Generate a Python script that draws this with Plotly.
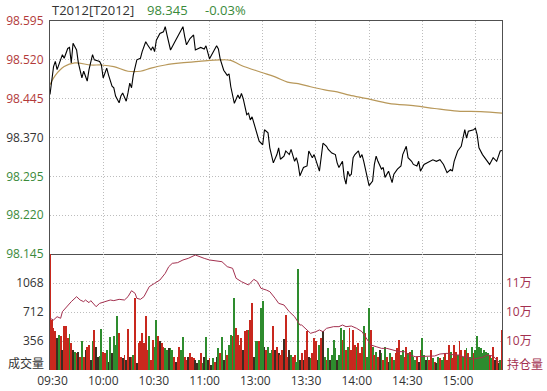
import plotly.graph_objects as go

# ---------------- data ----------------
contract = "T2012[T2012]"
prev_settle = 98.370

# minutes since the 09:30 open (lunch break removed: 120 = 11:30/13:00, 255 = 15:15)
price_t = [0, 1, 2, 3, 4, 7, 8, 10, 11, 12,
           13, 15, 16, 18, 19, 21, 22, 24, 25, 28,
           29, 30, 32, 33, 35, 36, 37, 39, 40, 41,
           43, 44, 45, 46, 47, 49, 51, 52, 54, 55,
           57, 58, 59, 60, 62, 64, 65, 66, 68, 70,
           72, 75, 76, 77, 79, 81, 82, 84, 85, 87,
           88, 90, 92, 94, 95, 96, 98, 100, 101, 102,
           104, 106, 107, 108, 109, 111, 112, 113, 114, 116,
           118, 120, 121, 123, 124, 126, 128, 129, 130, 132,
           133, 135, 136, 138, 139, 140, 141, 143, 145, 146,
           148, 149, 152, 154, 156, 157, 159, 161, 162, 163,
           165, 166, 167, 168, 169, 170, 171, 172, 174, 175,
           176, 177, 179, 180, 182, 183, 184, 185, 187, 188,
           189, 191, 193, 194, 196, 198, 199, 201, 202, 204,
           205, 207, 208, 209, 211, 213, 215, 216, 218, 220,
           222, 224, 226, 227, 228, 230, 232, 233, 234, 235,
           236, 239, 240, 241, 242, 244, 247, 248, 250, 252,
           254, 255]
price_v = [98.453, 98.479, 98.507, 98.517, 98.501, 98.530, 98.523, 98.542, 98.544, 98.514,
           98.552, 98.539, 98.514, 98.485, 98.498, 98.479, 98.501, 98.530, 98.520, 98.517,
           98.510, 98.485, 98.504, 98.491, 98.469, 98.466, 98.450, 98.437, 98.450, 98.456,
           98.440, 98.456, 98.475, 98.466, 98.491, 98.520, 98.523, 98.536, 98.555, 98.549,
           98.539, 98.545, 98.536, 98.558, 98.571, 98.574, 98.584, 98.568, 98.539, 98.552,
           98.565, 98.584, 98.565, 98.549, 98.561, 98.568, 98.539, 98.542, 98.544, 98.541,
           98.547, 98.522, 98.535, 98.547, 98.541, 98.522, 98.500, 98.490, 98.493, 98.468,
           98.436, 98.452, 98.445, 98.455, 98.445, 98.414, 98.417, 98.404, 98.410, 98.388,
           98.363, 98.356, 98.385, 98.379, 98.350, 98.321, 98.337, 98.350, 98.328, 98.334,
           98.344, 98.337, 98.347, 98.324, 98.331, 98.318, 98.296, 98.312, 98.315, 98.344,
           98.331, 98.337, 98.305, 98.359, 98.353, 98.347, 98.340, 98.337, 98.321, 98.312,
           98.324, 98.293, 98.280, 98.305, 98.296, 98.299, 98.331, 98.337, 98.344, 98.331,
           98.337, 98.324, 98.296, 98.277, 98.286, 98.318, 98.334, 98.324, 98.309, 98.312,
           98.293, 98.305, 98.283, 98.299, 98.309, 98.315, 98.337, 98.353, 98.331, 98.324,
           98.318, 98.315, 98.324, 98.305, 98.318, 98.321, 98.324, 98.327, 98.324, 98.327,
           98.318, 98.302, 98.308, 98.305, 98.324, 98.344, 98.353, 98.372, 98.385, 98.369,
           98.382, 98.385, 98.388, 98.375, 98.350, 98.337, 98.324, 98.318, 98.331, 98.324,
           98.344, 98.345]

avg_t = [0, 3, 8, 14, 23, 29, 36, 44, 51, 57, 65, 74, 84, 96, 102, 108,
         119, 127, 134, 140, 147, 155, 162, 169, 179, 191, 206, 217, 230, 243, 255]
avg_v = [98.472, 98.490, 98.507, 98.514, 98.510, 98.510, 98.507, 98.498, 98.498, 98.504,
         98.510, 98.514, 98.517, 98.520, 98.519, 98.509, 98.496, 98.487, 98.477, 98.474,
         98.468, 98.462, 98.458, 98.452, 98.445, 98.436, 98.431, 98.426, 98.421, 98.420,
         98.417]

# per-minute volume (minute 0 .. 255); direction u = up, d = down, n = flat
volume = [2400,
          617, 515, 473, 391, 432, 412, 247, 543, 535, 391,
          445, 329, 247, 226, 206, 226, 156, 362, 165, 247,
          288, 309, 123, 350, 494, 288, 165, 173, 502, 226,
          206, 247, 103, 403, 206, 420, 309, 659, 453, 165,
          144, 185, 123, 502, 165, 165, 185, 885, 82, 329,
          362, 453, 329, 659, 247, 412, 123, 370, 288, 617,
          412, 350, 329, 288, 268, 247, 268, 268, 247, 165,
          103, 165, 288, 247, 403, 165, 123, 165, 206,
          165, 144, 123, 82, 123, 206, 82, 165, 403, 123,
          144, 62, 144, 103, 165, 268, 206, 403, 123, 247,
          185, 309, 432, 412, 885, 515, 432, 309, 391, 247,
          473, 494, 494, 617, 823, 165, 350, 362, 350, 761,
          844, 288, 247, 288, 206, 247, 535, 247,
          288, 206, 185, 247, 379, 679, 165, 247, 185,
          165, 185, 103, 1235, 123, 206, 123, 247, 473,
          165, 144, 206, 391, 350, 123, 309, 391, 473,
          165, 123, 268, 123, 185, 370, 268, 123, 185,
          515, 370, 494, 247, 288, 515, 247, 494, 309, 288,
          329, 206, 288, 535, 453, 165, 761, 494, 288, 185,
          226, 165, 247, 206, 123, 288, 165, 103, 206, 165,
          123, 206, 268, 370, 185, 247, 165, 288, 206,
          226, 247, 165, 123, 165, 103, 247, 391, 185,
          123, 165, 123, 247, 144, 103, 82, 165, 144,
          123, 165, 206, 123, 309, 226, 144, 309, 226,
          185, 350, 247, 165, 247, 268, 206, 165, 288, 206,
          247, 412, 288, 268, 206, 247, 226, 206, 185, 144,
          288, 123, 165, 82, 123, 494]
direction = ("u"
             "uuundunuuu" "dundunudun" "uundunnddu" "udndnddduu" "nununudunu"
             "uuuuuduudd" "unuuddnddu" "nuudduunu" "uunndudndn" "undundudnd"
             "udduduuuun" "uuduunddud" "dnudddun"
             "unuunuund" "uuddnunuu" "nduuundun" "dudndddnd" "dududuuuud"
             "uuududdudu" "dundudundu" "duuudduud" "udddunudd" "nduudundu"
             "dduuuduuu" "duudududdu" "ddddddddud" "unundu")

oi_t = [0, 2, 4, 6, 7, 10, 12, 15, 17, 19,
        20, 22, 23, 26, 28, 31, 34, 36, 39, 42,
        44, 46, 48, 49, 51, 53, 56, 59, 62, 65,
        67, 69, 72, 75, 78, 82, 84, 87, 90, 94,
        97, 100, 103, 105, 108, 112, 114, 115, 117, 119,
        122, 124, 127, 129, 132, 135, 138, 141, 142, 145,
        147, 150, 152, 154, 156, 160, 163, 165, 167, 170,
        173, 176, 179, 181, 184, 187, 190, 194, 197, 200,
        203, 206, 209, 213, 217, 220, 224, 228, 231, 233,
        236, 238, 241, 244, 247, 250, 252, 254]
oi_v = [102700, 102350, 103030, 102700, 104070, 105450, 106140, 107170, 106480, 106140,
        106480, 105930, 106350, 105100, 105790, 106140, 106480, 106350, 106620, 106480,
        107170, 108410, 107860, 106830, 106620, 107170, 109240, 109930, 110620, 112000,
        113380, 114070, 114210, 114760, 115100, 115790, 115450, 115100, 114760, 114620,
        114410, 113380, 113040, 110970, 110280, 109590, 110280, 110760, 110280, 108900,
        108550, 108210, 106830, 105790, 105450, 104070, 103030, 101310, 101310, 100280,
        99590, 99930, 100280, 99930, 100620, 100970, 100970, 101310, 100970, 101100,
        100620, 99930, 98210, 97170, 96830, 96480, 96480, 96140, 95790, 95790,
        95100, 94760, 94760, 94900, 94900, 95310, 95450, 95100, 95100, 94760,
        94620, 94210, 94410, 94620, 95100, 94900, 94070, 93380]

price_ticks = [98.145, 98.220, 98.295, 98.370, 98.445, 98.520, 98.595]
price_tick_text = ["98.145", "98.220", "98.295", "98.370", "98.445", "98.520", "98.595"]
pct_tick_text = ["0.23%", "0.15%", "0.08%", "0.00%", "0.08%", "0.15%", "0.23%"]
vol_ticks = [356, 712, 1068]
vol_tick_text = ["356", "712", "1068"]
oi_ticks = [98000, 104000, 110000]
oi_tick_text = ["10万", "10万", "11万"]
grid_t = [30, 60, 90, 120, 150, 180, 210, 240]
time_labels = ["09:30", "10:00", "10:30", "11:00", "13:00", "13:30", "14:00", "14:30", "15:00"]

# ---------------- styles ----------------
RED = "#b23a3a"
GREEN = "#3a8a3a"
GRAY = "#333333"
OI_RED = "#a3304f"
FRAME = "#505050"
GRID = "#bdbdbd"
DOT = "1px,2px"
FONT = "Open Sans, Noto Sans CJK SC, sans-serif"
BAR_COL = {"u": "#c8281e", "d": "#2e8c2e", "n": "#3a2e22"}


def col_for(p):
    if p > prev_settle + 1e-9:
        return RED
    if p < prev_settle - 1e-9:
        return GREEN
    return GRAY


def span(t, c):
    return '<span style="color:%s">%s</span>' % (c, t)


price_tt = [span(t, col_for(p)) for t, p in zip(price_tick_text, price_ticks)]
pct_tt = [span(t, col_for(p)) for t, p in zip(pct_tick_text, price_ticks)]
oi_tt = [span(t, OI_RED) for t in oi_tick_text]

fig = go.Figure()
fig.add_trace(go.Bar(x=list(range(len(volume))), y=volume,
                     marker=dict(color=[BAR_COL[c] for c in direction], line=dict(width=0)),
                     width=0.5, xaxis="x2", yaxis="y3", hoverinfo="skip"))
fig.add_trace(go.Scatter(x=oi_t, y=oi_v, mode="lines", line=dict(color=OI_RED, width=1),
                         xaxis="x2", yaxis="y4", hoverinfo="skip"))
fig.add_trace(go.Scatter(x=avg_t, y=avg_v, mode="lines",
                         line=dict(color="#b8985a", width=1.2, shape="spline"),
                         xaxis="x", yaxis="y", hoverinfo="skip"))
fig.add_trace(go.Scatter(x=price_t, y=price_v, mode="lines", line=dict(color="#000000", width=1.1),
                         xaxis="x", yaxis="y", hoverinfo="skip"))
# empty trace that registers the time-label axis so it is drawn
fig.add_trace(go.Scatter(x=[], y=[], mode="lines", xaxis="x3", yaxis="y3", hoverinfo="skip"))

split = (370 - 254) / 349.0
axis_common = dict(zeroline=False, ticks="", fixedrange=True, automargin=False)

fig.update_layout(
    width=547, height=391,
    margin=dict(l=50, r=45, t=21, b=21, autoexpand=False),
    paper_bgcolor="white", plot_bgcolor="white",
    showlegend=False,
    font=dict(family=FONT, size=12, color=GRAY),
    xaxis=dict(domain=[0, 1], anchor="y", range=[0, 255], tickvals=grid_t,
               showticklabels=False, showgrid=True, gridcolor=GRID, griddash=DOT,
               showline=True, mirror=True, linecolor=FRAME, linewidth=1, **axis_common),
    xaxis2=dict(domain=[0, 1], anchor="y3", range=[0, 255], tickvals=grid_t,
                showticklabels=False, showgrid=True, gridcolor=GRID, griddash=DOT,
                showline=False, **axis_common),
    xaxis3=dict(overlaying="x2", anchor="y3", range=[-0.0493, 8.866],
                tickmode="array", tickvals=list(range(len(time_labels))), ticktext=time_labels,
                showticklabels=True, showgrid=False, showline=False,
                tickfont=dict(color=GRAY, size=12),
                ticklabelstandoff=2, **axis_common),
    yaxis=dict(domain=[split, 1], anchor="x", range=[98.145, 98.595],
               tickvals=price_ticks, ticktext=price_tt,
               showgrid=True, gridcolor=GRID, griddash=DOT,
               showline=True, mirror=True, linecolor=FRAME, linewidth=1,
               ticklabelstandoff=3, **axis_common),
    yaxis2=dict(overlaying="y", side="right", anchor="x", range=[98.145, 98.595],
                tickvals=price_ticks, ticktext=pct_tt, showgrid=False, showline=False,
                ticklabelstandoff=3, **axis_common),
    yaxis3=dict(domain=[0, split], anchor="x2", range=[0, 1424],
                tickvals=vol_ticks, ticktext=vol_tick_text,
                showgrid=True, gridcolor=GRID, griddash=DOT,
                showline=True, mirror=True, linecolor=FRAME, linewidth=1,
                ticklabelstandoff=3, **axis_common),
    yaxis4=dict(overlaying="y3", side="right", anchor="x2", range=[92000, 116000],
                tickvals=oi_ticks, ticktext=oi_tt, showgrid=False, showline=False,
                ticklabelstandoff=3, **axis_common),
    bargap=0,
)

last = price_v[-1]
chg = (last - prev_settle) / prev_settle * 100
title_y = (370 - 10) / 349.0
fig.add_annotation(x=0, y=title_y, xref="paper", yref="paper", xanchor="left", yanchor="middle",
                   text=contract, showarrow=False, font=dict(size=13, color=GRAY))
fig.add_annotation(x=(145 - 50) / 452.0, y=title_y, xref="paper", yref="paper", xanchor="left",
                   yanchor="middle", text="%.3f" % last, showarrow=False,
                   font=dict(size=13, color=col_for(last)))
fig.add_annotation(x=(203 - 50) / 452.0, y=title_y, xref="paper", yref="paper", xanchor="left",
                   yanchor="middle", text="%.2f%%" % chg, showarrow=False,
                   font=dict(size=13, color=col_for(last)))
fig.add_annotation(x=(46 - 50) / 452.0, y=(370 - 363) / 349.0, xref="paper", yref="paper",
                   xanchor="right", yanchor="middle", text="成交量", showarrow=False,
                   font=dict(size=12, color=GRAY))
fig.add_annotation(x=(505 - 50) / 452.0, y=(370 - 364) / 349.0, xref="paper", yref="paper",
                   xanchor="left", yanchor="middle", text="持仓量", showarrow=False,
                   font=dict(size=12, color=OI_RED))

fig.write_html("out.html", config={"displayModeBar": False},
               post_script="document.body.style.margin='0';document.body.style.overflow='hidden';")
